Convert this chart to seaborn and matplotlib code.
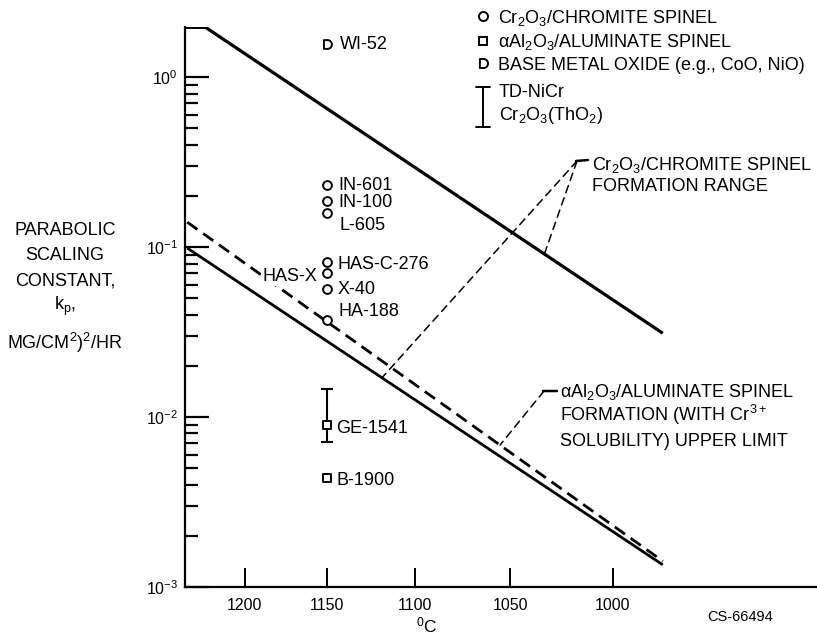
import numpy as np
import pandas as pd
import matplotlib
matplotlib.use("Agg")
import matplotlib.pyplot as plt
import seaborn as sns
from matplotlib.path import Path
from matplotlib.lines import Line2D

# ---------------- data ----------------
alloy_names = ["WI-52", "IN-601", "IN-100", "L-605", "HAS-C-276", "HAS-X",
               "X-40", "HA-188", "GE-1541", "B-1900"]
alloy_temp_c = [1150, 1150, 1150, 1150, 1150, 1150, 1150, 1150, 1150, 1150]
alloy_kp = [1.57, 0.232, 0.187, 0.158, 0.0818, 0.0699, 0.0570, 0.0371, 0.00892, 0.00439]
alloy_oxide = ["base", "chromite", "chromite", "chromite", "chromite", "chromite",
               "chromite", "chromite", "aluminate", "aluminate"]
ge1541_kp_range = [0.00711, 0.0147]

chromite_upper_temp_c = [1240, 1225, 977]
chromite_upper_kp = [1.96, 1.96, 0.0311]
chromite_lower_temp_c = [1237, 977]
chromite_lower_kp = [0.0986, 0.00135]
aluminate_upper_temp_c = [1237, 977]
aluminate_upper_kp = [0.140, 0.00142]

x_tick_values = [1200, 1150, 1100, 1050, 1000]
x_tick_labels = ["1200", "1150", "1100", "1050", "1000"]

# ---------------- style ----------------
W, H = 817, 641
sns.set_theme(style="ticks")
FONT = ["Liberation Sans", "DejaVu Sans"]
plt.rcParams["font.family"] = FONT
plt.rcParams["mathtext.default"] = "regular"
plt.rcParams["axes.linewidth"] = 1.6
for key in ("text.color", "axes.labelcolor", "xtick.color", "ytick.color",
            "axes.edgecolor", "xtick.labelcolor", "ytick.labelcolor"):
    plt.rcParams[key] = "black"
FS = 13

fig = plt.figure(figsize=(W / 100, H / 100), dpi=100)
ax = fig.add_axes([185 / W, (H - 587) / H, (816 - 185) / W, (587 - 27) / H])


# Arrhenius-type axis: linear in -1/T (increasing), shown with hot end on the left
def fwd(t):
    return -1e4 / (np.asarray(t, dtype=float) + 273.15)


def inv(u):
    u = np.asarray(u, dtype=float)
    with np.errstate(divide="ignore"):
        return -1e4 / u - 273.15


ax.set_xscale("function", functions=(fwd, inv))
ax.set_yscale("log")

# ---------------- lines ----------------
sns.lineplot(x=chromite_upper_temp_c, y=chromite_upper_kp, sort=False,
             estimator=None, color="black", lw=2.3, ax=ax)
sns.lineplot(x=chromite_lower_temp_c, y=chromite_lower_kp, sort=False,
             estimator=None, color="black", lw=2.0, ax=ax)
sns.lineplot(x=aluminate_upper_temp_c, y=aluminate_upper_kp, sort=False,
             estimator=None, color="black", lw=2.0, ax=ax)
ax.lines[-1].set_linestyle((0, (4.5, 2.5)))
for ln in ax.lines:
    ln.set_solid_capstyle("butt")

# ---------------- points ----------------
theta = np.linspace(np.pi / 2, -np.pi / 2, 30)
d_verts = [(-0.8, -1.0), (-0.8, 1.0), (0.0, 1.0)] + \
    [(np.cos(a), np.sin(a)) for a in theta] + [(-0.8, -1.0)]
d_marker = Path(np.array(d_verts), closed=True)

df = pd.DataFrame({"temp": alloy_temp_c, "kp": alloy_kp,
                   "oxide": alloy_oxide, "name": alloy_names})

ge = df[df["name"] == "GE-1541"].iloc[0]
ax.errorbar([ge["temp"]], [ge["kp"]],
            yerr=[[ge["kp"] - ge1541_kp_range[0]], [ge1541_kp_range[1] - ge["kp"]]],
            fmt="none", ecolor="black", elinewidth=1.5, capsize=4.6, capthick=1.5,
            zorder=3)

marker_style = {"chromite": ("o", 40), "aluminate": ("s", 36), "base": (d_marker, 40)}
for ox, (mk, size) in marker_style.items():
    sub = df[df["oxide"] == ox]
    sns.scatterplot(data=sub, x="temp", y="kp", marker=mk, s=size,
                    color="black", facecolor="white", edgecolor="black",
                    linewidth=1.4, legend=False, ax=ax, zorder=5)

# point labels (offsets in pixels: right, down)
label_offsets = {
    "WI-52": (13, 1, "left"), "IN-601": (11, 1, "left"), "IN-100": (11, 2, "left"),
    "L-605": (12, 12, "left"), "HAS-C-276": (10, 3, "left"), "HAS-X": (-10, 3, "right"),
    "X-40": (11, 1, "left"), "HA-188": (11, -9, "left"), "GE-1541": (9, 3, "left"),
    "B-1900": (9, 3, "left"),
}
for _, r in df.iterrows():
    dx, dy, ha = label_offsets[r["name"]]
    kw = {}
    if r["name"] == "HAS-X":
        kw["bbox"] = dict(fc="white", ec="none", pad=0.5)
    ax.annotate(r["name"], xy=(r["temp"], r["kp"]), xytext=(dx * 0.72, -dy * 0.72),
                textcoords="offset points", ha=ha, va="center", fontsize=FS,
                color="black", zorder=6, **kw)

# ---------------- axes ----------------
ax.set_xlim(1238.5, 911.3)
ax.set_ylim(1e-3, 1.97)
ax.set_xticks(x_tick_values)
ax.set_xticklabels(x_tick_labels)
ax.xaxis.set_minor_locator(matplotlib.ticker.NullLocator())
ax.yaxis.set_major_locator(matplotlib.ticker.LogLocator(base=10, numticks=10))
ax.yaxis.set_minor_locator(matplotlib.ticker.LogLocator(base=10, subs=np.arange(2, 10), numticks=20))
ax.yaxis.set_minor_formatter(matplotlib.ticker.NullFormatter())
ax.tick_params(axis="x", which="major", direction="in", length=14, width=1.4,
               pad=8, labelsize=11.5, colors="black")
ax.tick_params(axis="y", which="major", direction="in", length=17, width=1.6,
               pad=5, labelsize=11.5, colors="black")
ax.tick_params(axis="y", which="minor", direction="in", length=9.5, width=1.6,
               colors="black")
for s in ("top", "right"):
    ax.spines[s].set_visible(False)
for s in ("left", "bottom"):
    ax.spines[s].set_color("black")
ax.set_xlabel("")
ax.set_ylabel("")


def fpx(x, y):
    return x / W, 1 - y / H


# y axis label (stacked lines)
for txt, yb in [("PARABOLIC", 235), ("SCALING", 260), ("CONSTANT,", 285),
                ("k$_p$,", 310), ("MG/CM$^2$)$^2$/HR", 349)]:
    fig.text(*fpx(65, yb), txt, ha="center", va="baseline", fontsize=FS, color="black")

# x axis label and code
fig.text(*fpx(427, 632), "$^0$C", ha="center", va="baseline", fontsize=12.5, color="black")
fig.text(*fpx(740, 621), "CS-66494", ha="center", va="baseline", fontsize=10.5, color="black")

# ---------------- legend (drawn by hand) ----------------
leg_items = [("o", 6.5, 16, "Cr$_2$O$_3$/CHROMITE SPINEL", 23),
             ("s", 6.0, 41, "αAl$_2$O$_3$/ALUMINATE SPINEL", 47),
             (d_marker, 6.5, 63, "BASE METAL OXIDE (e.g., CoO, NiO)", 70)]
for mk, ms, ym, txt, yb in leg_items:
    fig.add_artist(Line2D([483 / W], [1 - ym / H], transform=fig.transFigure,
                          marker=mk, ms=ms, mfc="white", mec="black", mew=1.4, ls="none"))
    fig.text(*fpx(498, yb), txt, ha="left", va="baseline", fontsize=FS, color="black")
for xs, ys in [([483, 483], [87, 127]), ([476, 490], [87, 87]), ([476, 490], [127, 127])]:
    fig.add_artist(Line2D(np.array(xs) / W, 1 - np.array(ys) / H,
                          transform=fig.transFigure, color="black", lw=1.4))
fig.text(*fpx(499, 97), "TD-NiCr", ha="left", va="baseline", fontsize=FS, color="black")
fig.text(*fpx(499, 120), "Cr$_2$O$_3$(ThO$_2$)", ha="left", va="baseline", fontsize=FS,
         color="black")


# ---------------- annotations ----------------
def kp_on(temps, kps, t):
    u = fwd(temps)
    order = np.argsort(u)
    return 10 ** np.interp(fwd(t), u[order], np.log10(np.asarray(kps))[order])


dash_leader = dict(arrowstyle="-", color="black", lw=1.1, linestyle=(0, (5, 3.5)),
                   shrinkA=0, shrinkB=0)
solid_leader = dict(arrowstyle="-", color="black", lw=1.8, shrinkA=0, shrinkB=0)

t1 = 1118.5
ax.annotate("", xy=(t1, kp_on(chromite_lower_temp_c, chromite_lower_kp, t1)),
            xytext=(577, H - 161), textcoords="figure pixels", arrowprops=dash_leader)
t2 = 1033
ax.annotate("", xy=(t2, kp_on(chromite_upper_temp_c, chromite_upper_kp, t2)),
            xytext=(577, H - 161), textcoords="figure pixels", arrowprops=dash_leader)
ax.annotate("", xy=(588, H - 160), xycoords="figure pixels",
            xytext=(576, H - 161), textcoords="figure pixels", arrowprops=solid_leader)
fig.text(*fpx(592, 170), "Cr$_2$O$_3$/CHROMITE SPINEL", ha="left", va="baseline",
         fontsize=FS, color="black")
fig.text(*fpx(592, 191), "FORMATION RANGE", ha="left", va="baseline", fontsize=FS,
         color="black")

t3 = 1055.3
ax.annotate("", xy=(t3, kp_on(aluminate_upper_temp_c, aluminate_upper_kp, t3)),
            xytext=(544, H - 391), textcoords="figure pixels", arrowprops=dash_leader)
ax.annotate("", xy=(557, H - 391), xycoords="figure pixels",
            xytext=(543, H - 391), textcoords="figure pixels", arrowprops=solid_leader)
fig.text(*fpx(560, 397), "αAl$_2$O$_3$/ALUMINATE SPINEL", ha="left", va="baseline",
         fontsize=FS, color="black")
fig.text(*fpx(560, 421), "FORMATION (WITH Cr$^{3+}$", ha="left", va="baseline",
         fontsize=FS, color="black")
fig.text(*fpx(560, 446), "SOLUBILITY) UPPER LIMIT", ha="left", va="baseline",
         fontsize=FS, color="black")

fig.savefig("out.png", dpi=100, facecolor="white")
